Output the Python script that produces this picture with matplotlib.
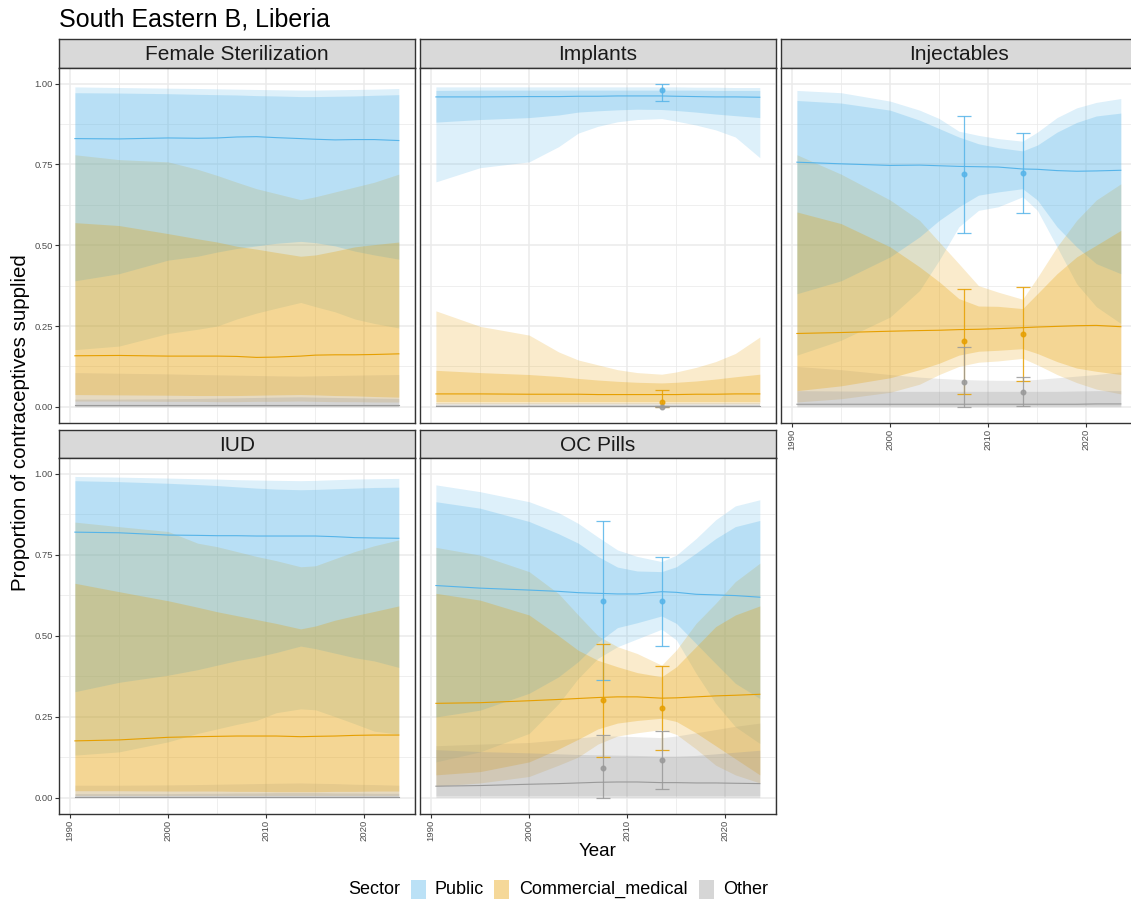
import matplotlib.pyplot as plt
from matplotlib.patches import Rectangle

plt.rcParams['font.family'] = ['Liberation Sans', 'DejaVu Sans']

# years at which the estimates were read off
years = [1990.5, 1995, 2000, 2003, 2005, 2007, 2009, 2011, 2013.5, 2015, 2017, 2019, 2021, 2023.5]

sectors = ['Public', 'Commercial_medical', 'Other']
colors = {'Public': '#56B4E9', 'Commercial_medical': '#E69F00', 'Other': '#999999'}

# Female Sterilization
fs_public = dict(
    med=[0.830, 0.829, 0.832, 0.831, 0.832, 0.835, 0.836, 0.833, 0.830, 0.828, 0.826, 0.827, 0.827, 0.824],
    hi95=[0.990, 0.988, 0.986, 0.985, 0.984, 0.983, 0.982, 0.981, 0.980, 0.980, 0.981, 0.982, 0.983, 0.985],
    hi80=[0.972, 0.971, 0.969, 0.967, 0.966, 0.965, 0.963, 0.962, 0.960, 0.960, 0.961, 0.962, 0.964, 0.966],
    lo80=[0.390, 0.412, 0.454, 0.466, 0.479, 0.490, 0.498, 0.506, 0.512, 0.508, 0.498, 0.482, 0.470, 0.457],
    lo95=[0.177, 0.188, 0.227, 0.240, 0.250, 0.272, 0.290, 0.305, 0.323, 0.310, 0.294, 0.272, 0.258, 0.244])
fs_commercial = dict(
    med=[0.158, 0.159, 0.157, 0.157, 0.157, 0.156, 0.153, 0.154, 0.157, 0.160, 0.161, 0.161, 0.162, 0.164],
    hi95=[0.780, 0.765, 0.758, 0.735, 0.716, 0.695, 0.675, 0.660, 0.641, 0.650, 0.665, 0.680, 0.695, 0.720],
    hi80=[0.570, 0.561, 0.536, 0.520, 0.510, 0.497, 0.488, 0.478, 0.466, 0.470, 0.482, 0.495, 0.502, 0.510],
    lo80=[0.038, 0.037, 0.036, 0.035, 0.035, 0.035, 0.036, 0.037, 0.038, 0.037, 0.035, 0.034, 0.032, 0.030],
    lo95=[0.018, 0.018, 0.017, 0.017, 0.016, 0.016, 0.017, 0.017, 0.018, 0.017, 0.016, 0.016, 0.015, 0.015])
fs_other = dict(
    med=[0.005, 0.005, 0.005, 0.005, 0.005, 0.005, 0.005, 0.005, 0.005, 0.005, 0.005, 0.005, 0.005, 0.005],
    hi95=[0.106, 0.104, 0.102, 0.100, 0.099, 0.098, 0.097, 0.096, 0.095, 0.096, 0.097, 0.098, 0.099, 0.100],
    hi80=[0.024, 0.024, 0.025, 0.026, 0.027, 0.028, 0.029, 0.030, 0.031, 0.030, 0.029, 0.028, 0.027, 0.026],
    lo80=[0.001, 0.001, 0.001, 0.001, 0.001, 0.001, 0.001, 0.001, 0.001, 0.001, 0.001, 0.001, 0.001, 0.001],
    lo95=[0.000, 0.000, 0.000, 0.000, 0.000, 0.000, 0.000, 0.000, 0.000, 0.000, 0.000, 0.000, 0.000, 0.000])

# Implants
imp_public = dict(
    med=[0.959, 0.959, 0.960, 0.960, 0.961, 0.961, 0.962, 0.962, 0.962, 0.961, 0.960, 0.959, 0.959, 0.958],
    hi95=[0.990, 0.990, 0.990, 0.990, 0.990, 0.990, 0.990, 0.990, 0.990, 0.990, 0.989, 0.989, 0.988, 0.988],
    hi80=[0.979, 0.980, 0.980, 0.980, 0.980, 0.980, 0.980, 0.980, 0.980, 0.980, 0.980, 0.979, 0.979, 0.979],
    lo80=[0.881, 0.889, 0.895, 0.903, 0.912, 0.916, 0.919, 0.921, 0.920, 0.917, 0.912, 0.906, 0.901, 0.895],
    lo95=[0.696, 0.740, 0.758, 0.805, 0.847, 0.868, 0.882, 0.889, 0.892, 0.884, 0.872, 0.857, 0.835, 0.771])
imp_commercial = dict(
    med=[0.040, 0.040, 0.039, 0.039, 0.039, 0.038, 0.038, 0.038, 0.038, 0.038, 0.039, 0.039, 0.040, 0.040],
    hi95=[0.297, 0.249, 0.222, 0.170, 0.145, 0.130, 0.115, 0.106, 0.101, 0.108, 0.122, 0.140, 0.165, 0.216],
    hi80=[0.113, 0.106, 0.100, 0.094, 0.088, 0.083, 0.079, 0.076, 0.074, 0.076, 0.080, 0.086, 0.093, 0.101],
    lo80=[0.016, 0.016, 0.016, 0.016, 0.016, 0.016, 0.016, 0.016, 0.016, 0.016, 0.016, 0.016, 0.016, 0.016],
    lo95=[0.009, 0.009, 0.009, 0.009, 0.009, 0.009, 0.009, 0.009, 0.009, 0.009, 0.009, 0.009, 0.009, 0.009])
imp_other = dict(
    med=[0.002, 0.002, 0.002, 0.002, 0.002, 0.002, 0.002, 0.002, 0.002, 0.002, 0.002, 0.002, 0.002, 0.002],
    hi95=[0.012, 0.012, 0.012, 0.012, 0.012, 0.012, 0.012, 0.012, 0.012, 0.012, 0.012, 0.012, 0.012, 0.012],
    hi80=[0.006, 0.006, 0.006, 0.006, 0.006, 0.006, 0.006, 0.006, 0.006, 0.006, 0.006, 0.006, 0.006, 0.006],
    lo80=[0.000, 0.000, 0.000, 0.000, 0.000, 0.000, 0.000, 0.000, 0.000, 0.000, 0.000, 0.000, 0.000, 0.000],
    lo95=[0.000, 0.000, 0.000, 0.000, 0.000, 0.000, 0.000, 0.000, 0.000, 0.000, 0.000, 0.000, 0.000, 0.000])

# Injectables
inj_public = dict(
    med=[0.757, 0.752, 0.747, 0.748, 0.746, 0.744, 0.743, 0.742, 0.736, 0.735, 0.731, 0.729, 0.730, 0.732],
    hi95=[0.979, 0.972, 0.946, 0.918, 0.892, 0.853, 0.840, 0.830, 0.822, 0.850, 0.895, 0.925, 0.942, 0.954],
    hi80=[0.948, 0.940, 0.918, 0.887, 0.861, 0.835, 0.814, 0.802, 0.792, 0.810, 0.850, 0.880, 0.900, 0.909],
    lo80=[0.350, 0.390, 0.464, 0.526, 0.577, 0.619, 0.655, 0.665, 0.675, 0.640, 0.557, 0.495, 0.443, 0.412],
    lo95=[0.160, 0.206, 0.278, 0.360, 0.454, 0.557, 0.608, 0.619, 0.650, 0.608, 0.495, 0.381, 0.310, 0.258])
inj_commercial = dict(
    med=[0.227, 0.230, 0.234, 0.236, 0.237, 0.239, 0.240, 0.242, 0.245, 0.247, 0.249, 0.251, 0.252, 0.248],
    hi95=[0.780, 0.720, 0.640, 0.577, 0.510, 0.443, 0.375, 0.355, 0.333, 0.400, 0.495, 0.577, 0.640, 0.690],
    hi80=[0.603, 0.567, 0.495, 0.433, 0.387, 0.335, 0.312, 0.311, 0.304, 0.350, 0.412, 0.464, 0.500, 0.546],
    lo80=[0.050, 0.065, 0.090, 0.115, 0.135, 0.160, 0.172, 0.175, 0.180, 0.165, 0.140, 0.120, 0.110, 0.100],
    lo95=[0.015, 0.025, 0.045, 0.070, 0.100, 0.125, 0.138, 0.142, 0.150, 0.130, 0.100, 0.075, 0.055, 0.040])
inj_other = dict(
    med=[0.008, 0.008, 0.008, 0.008, 0.008, 0.008, 0.008, 0.008, 0.008, 0.008, 0.008, 0.008, 0.009, 0.009],
    hi95=[0.125, 0.115, 0.100, 0.092, 0.088, 0.085, 0.083, 0.082, 0.082, 0.085, 0.090, 0.095, 0.100, 0.108],
    hi80=[0.050, 0.049, 0.048, 0.048, 0.048, 0.048, 0.048, 0.048, 0.048, 0.048, 0.048, 0.049, 0.050, 0.050],
    lo80=[0.003, 0.003, 0.003, 0.003, 0.003, 0.003, 0.003, 0.003, 0.003, 0.003, 0.003, 0.003, 0.003, 0.003],
    lo95=[0.000, 0.000, 0.000, 0.000, 0.000, 0.000, 0.000, 0.000, 0.000, 0.000, 0.000, 0.000, 0.000, 0.000])

# IUD
iud_public = dict(
    med=[0.820, 0.818, 0.811, 0.810, 0.809, 0.809, 0.808, 0.808, 0.808, 0.808, 0.806, 0.803, 0.802, 0.801],
    hi95=[0.992, 0.990, 0.987, 0.985, 0.984, 0.982, 0.981, 0.980, 0.979, 0.980, 0.982, 0.984, 0.985, 0.986],
    hi80=[0.979, 0.976, 0.971, 0.967, 0.964, 0.960, 0.956, 0.953, 0.951, 0.952, 0.954, 0.956, 0.958, 0.959],
    lo80=[0.327, 0.356, 0.378, 0.395, 0.409, 0.423, 0.434, 0.448, 0.468, 0.460, 0.446, 0.432, 0.422, 0.402],
    lo95=[0.131, 0.141, 0.172, 0.198, 0.212, 0.226, 0.238, 0.262, 0.274, 0.271, 0.250, 0.228, 0.205, 0.196])
iud_commercial = dict(
    med=[0.175, 0.178, 0.186, 0.188, 0.189, 0.190, 0.190, 0.190, 0.188, 0.189, 0.190, 0.192, 0.193, 0.193],
    hi95=[0.851, 0.837, 0.822, 0.786, 0.775, 0.760, 0.745, 0.732, 0.713, 0.716, 0.738, 0.760, 0.778, 0.796],
    hi80=[0.662, 0.636, 0.608, 0.588, 0.574, 0.562, 0.550, 0.538, 0.521, 0.530, 0.548, 0.562, 0.575, 0.592],
    lo80=[0.021, 0.021, 0.020, 0.020, 0.020, 0.019, 0.019, 0.018, 0.018, 0.018, 0.019, 0.019, 0.020, 0.020],
    lo95=[0.006, 0.006, 0.006, 0.006, 0.006, 0.006, 0.006, 0.006, 0.006, 0.006, 0.006, 0.006, 0.006, 0.006])
iud_other = dict(
    med=[0.003, 0.003, 0.003, 0.003, 0.003, 0.003, 0.003, 0.003, 0.003, 0.003, 0.003, 0.003, 0.003, 0.003],
    hi95=[0.038, 0.038, 0.039, 0.040, 0.041, 0.042, 0.043, 0.044, 0.045, 0.044, 0.043, 0.041, 0.040, 0.038],
    hi80=[0.012, 0.012, 0.012, 0.013, 0.013, 0.014, 0.014, 0.015, 0.015, 0.015, 0.014, 0.014, 0.013, 0.013],
    lo80=[0.000, 0.000, 0.000, 0.000, 0.000, 0.000, 0.000, 0.000, 0.000, 0.000, 0.000, 0.000, 0.000, 0.000],
    lo95=[0.000, 0.000, 0.000, 0.000, 0.000, 0.000, 0.000, 0.000, 0.000, 0.000, 0.000, 0.000, 0.000, 0.000])

# OC Pills
oc_public = dict(
    med=[0.655, 0.647, 0.641, 0.637, 0.633, 0.631, 0.629, 0.629, 0.636, 0.634, 0.628, 0.626, 0.624, 0.619],
    hi95=[0.966, 0.945, 0.914, 0.880, 0.847, 0.805, 0.765, 0.745, 0.729, 0.749, 0.800, 0.858, 0.901, 0.920],
    hi80=[0.914, 0.894, 0.853, 0.815, 0.786, 0.745, 0.712, 0.700, 0.698, 0.713, 0.755, 0.800, 0.837, 0.856],
    lo80=[0.249, 0.270, 0.322, 0.373, 0.420, 0.480, 0.525, 0.540, 0.561, 0.538, 0.476, 0.414, 0.353, 0.306],
    lo95=[0.110, 0.141, 0.198, 0.290, 0.368, 0.430, 0.466, 0.490, 0.520, 0.487, 0.384, 0.291, 0.219, 0.167])
oc_commercial = dict(
    med=[0.291, 0.293, 0.299, 0.303, 0.306, 0.309, 0.311, 0.311, 0.307, 0.308, 0.311, 0.314, 0.316, 0.319],
    hi95=[0.773, 0.749, 0.698, 0.630, 0.564, 0.500, 0.466, 0.445, 0.409, 0.456, 0.538, 0.600, 0.667, 0.724],
    hi80=[0.631, 0.610, 0.564, 0.500, 0.455, 0.424, 0.404, 0.386, 0.373, 0.404, 0.466, 0.528, 0.564, 0.592],
    lo80=[0.070, 0.080, 0.110, 0.150, 0.180, 0.212, 0.230, 0.238, 0.245, 0.235, 0.200, 0.160, 0.120, 0.070],
    lo95=[0.035, 0.045, 0.065, 0.100, 0.125, 0.165, 0.190, 0.200, 0.210, 0.195, 0.150, 0.100, 0.070, 0.045])
oc_other = dict(
    med=[0.035, 0.037, 0.041, 0.043, 0.045, 0.047, 0.048, 0.048, 0.046, 0.046, 0.045, 0.045, 0.044, 0.043],
    hi95=[0.160, 0.165, 0.170, 0.178, 0.184, 0.190, 0.190, 0.188, 0.185, 0.190, 0.200, 0.210, 0.220, 0.230],
    hi80=[0.148, 0.142, 0.138, 0.135, 0.133, 0.132, 0.131, 0.130, 0.128, 0.128, 0.130, 0.135, 0.140, 0.146],
    lo80=[0.005, 0.005, 0.005, 0.005, 0.005, 0.005, 0.005, 0.005, 0.005, 0.005, 0.005, 0.005, 0.005, 0.005],
    lo95=[0.000, 0.000, 0.000, 0.000, 0.000, 0.000, 0.000, 0.000, 0.000, 0.000, 0.000, 0.000, 0.000, 0.000])

# survey observations: (year, value, lower, upper)
imp_obs = {
    'Public': ([2013.5], [0.981], [0.945], [0.999]),
    'Commercial_medical': ([2013.5], [0.016], [0.000], [0.052]),
    'Other': ([2013.5], [0.001], [0.000], [0.003]),
}
inj_obs = {
    'Public': ([2007.5, 2013.5], [0.719, 0.724], [0.538, 0.601], [0.899, 0.848]),
    'Commercial_medical': ([2007.5, 2013.5], [0.203, 0.226], [0.040, 0.080], [0.365, 0.371]),
    'Other': ([2007.5, 2013.5], [0.076, 0.047], [0.000, 0.004], [0.185, 0.092]),
}
oc_obs = {
    'Public': ([2007.5, 2013.5], [0.608, 0.606], [0.363, 0.468], [0.855, 0.744]),
    'Commercial_medical': ([2007.5, 2013.5], [0.300, 0.277], [0.125, 0.146], [0.475, 0.407]),
    'Other': ([2007.5, 2013.5], [0.091, 0.115], [0.000, 0.026], [0.193, 0.205]),
}

panels = [
    ('Female Sterilization', [fs_public, fs_commercial, fs_other], None),
    ('Implants', [imp_public, imp_commercial, imp_other], imp_obs),
    ('Injectables', [inj_public, inj_commercial, inj_other], inj_obs),
    ('IUD', [iud_public, iud_commercial, iud_other], None),
    ('OC Pills', [oc_public, oc_commercial, oc_other], oc_obs),
]

W, H = 1131, 902
fig = plt.figure(figsize=(W / 100, H / 100), dpi=100)


def box(x0, y0, x1, y1):
    return fig.add_axes([x0 / W, 1 - y1 / H, (x1 - x0) / W, (y1 - y0) / H])


cols = [(58.7, 415.0), (419.7, 776.0), (780.7, 1137.0)]
rows = [(39.3, 67.5, 423.0), (429.5, 457.7, 813.7)]
dark = '#333333'

for i, (name, series, obs) in enumerate(panels):
    r, c = divmod(i, 3)
    x0, x1 = cols[c]
    s0, s1, p1 = rows[r]

    strip = box(x0, s0, x1, s1)
    strip.set_facecolor('#D9D9D9')
    strip.set_xticks([])
    strip.set_yticks([])
    for sp in strip.spines.values():
        sp.set_color(dark)
        sp.set_linewidth(1.0)
    strip.text(0.5, 0.45, name, ha='center', va='center', fontsize=15, color='#1A1A1A',
               transform=strip.transAxes)

    ax = box(x0, s1, x1, p1)
    ax.set_xlim(1988.85, 2025.15)
    ax.set_ylim(-0.05, 1.05)
    ax.set_xticks([1990, 2000, 2010, 2020])
    ax.set_xticks([1995, 2005, 2015, 2025], minor=True)
    ax.set_yticks([0, 0.25, 0.5, 0.75, 1.0])
    ax.set_yticks([0.125, 0.375, 0.625, 0.875], minor=True)
    ax.set_yticklabels(['0.00', '0.25', '0.50', '0.75', '1.00'])
    ax.set_xticklabels(['1990', '2000', '2010', '2020'], rotation=90)
    ax.grid(which='major', color='#EBEBEB', lw=1.1)
    ax.grid(which='minor', color='#EBEBEB', lw=0.55)
    ax.set_axisbelow(True)
    ax.tick_params(which='minor', length=0)
    ax.tick_params(which='major', length=2.7, width=0.8, color=dark, labelsize=6.8,
                   labelcolor='#4D4D4D', pad=1.5)
    show_y = c == 0
    show_x = r == 1 or c == 2
    ax.tick_params(left=show_y, labelleft=show_y, bottom=show_x, labelbottom=show_x)
    for sp in ax.spines.values():
        sp.set_color(dark)
        sp.set_linewidth(1.0)

    for sec, s in zip(sectors, series):
        ax.fill_between(years, s['lo95'], s['hi95'], color=colors[sec], alpha=0.2, lw=0)
    for sec, s in zip(sectors, series):
        ax.fill_between(years, s['lo80'], s['hi80'], color=colors[sec], alpha=0.27, lw=0)
    for sec, s in zip(sectors, series):
        ax.plot(years, s['med'], color=colors[sec], lw=0.8)

    if obs is not None:
        for sec in sectors:
            xs, ys, lo, hi = obs[sec]
            err = [[y - l for y, l in zip(ys, lo)], [h - y for y, h in zip(ys, hi)]]
            ax.errorbar(xs, ys, yerr=err, fmt='o', ms=3.3, color=colors[sec], ecolor=colors[sec],
                        elinewidth=0.9, capsize=5, capthick=0.9, alpha=0.85)

fig.text(59 / W, 1 - 26.7 / H, 'South Eastern B, Liberia', fontsize=18, va='baseline', ha='left')
fig.text(598 / W, 1 - 851 / H, 'Year', fontsize=13.5, ha='center', va='center')
fig.text(21 / W, 1 - 423 / H, 'Proportion of contraceptives supplied', fontsize=14.8,
         rotation=90, ha='center', va='center')

# legend along the bottom
fig.text(348 / W, 1 - 889.5 / H, 'Sector', fontsize=13, ha='left', va='center')
keys = [('Public', 411, 435), ('Commercial_medical', 494, 519), ('Other', 699, 723)]
for sec, kx, tx in keys:
    fig.add_artist(Rectangle((kx / W, 1 - 899 / H), 15 / W, 19 / H, transform=fig.transFigure,
                             facecolor=colors[sec], alpha=0.4, lw=0))
    fig.text(tx / W, 1 - 889.5 / H, sec, fontsize=13, ha='left', va='center')

fig.savefig('out.png', dpi=100)
